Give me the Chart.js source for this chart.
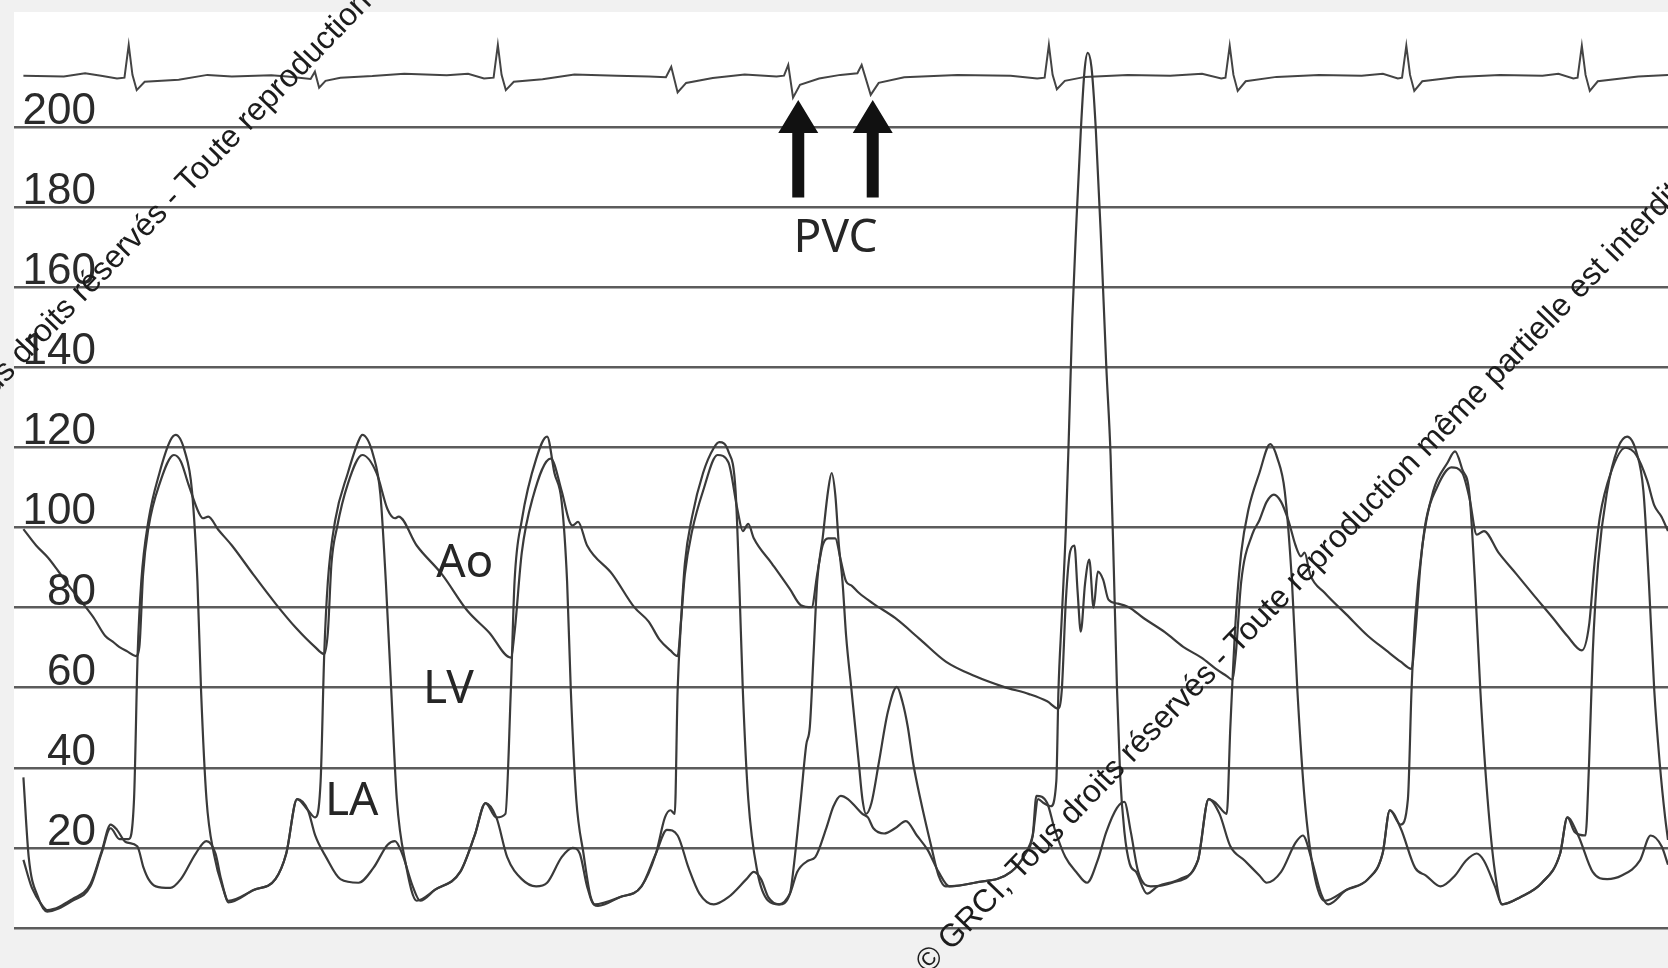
<!DOCTYPE html>
<html><head><meta charset="utf-8">
<script src="https://cdn.jsdelivr.net/npm/chart.js@4.4.1/dist/chart.umd.min.js"></script>
<style>html,body{margin:0;padding:0;background:#f1f1f1;}#wrap{width:1668px;height:968px;position:relative;}</style>
</head><body><div id="wrap"><canvas id="c"></canvas></div>
<script>
// y axis (mmHg)
const yTicks = [0, 20, 40, 60, 80, 100, 120, 140, 160, 180, 200];
const tickLabels = ['', '20', '40', '60', '80', '100', '120', '140', '160', '180', '200'];

// Aortic pressure (Ao)
const aoT = [22,34,45,54.5,66,78,88,99,106,112,120,127.7,131,134.5,139.6,150,163.5,170,177,187,190.7,195.8,205,218,238,259,279,296,304.8,308.2,311.6,316.8,327,340.6,354,364.4,371.3,374.7,391.7,415.5,439.4,459.8,480.2,483.7,490.5,500.7,517.7,528,534.9,538.3,543.4,551.9,575.7,596.2,609.8,620,630.2,637,640.4,643.8,650.6,660.9,674.5,684.7,693.2,698.3,703.4,708.6,725.6,742.6,752.8,763,768.2,773.3,778.4,785.2,790.3,795.4,800.5,807.3,820.9,841.4,865.2,889.1,916.3,943.6,967.4,984.4,994.7,998.1,1002,1006,1010,1013,1016,1020,1024,1028,1032,1037,1042,1051,1061.2,1074.9,1095.3,1112.3,1129.4,1143,1153.2,1158.3,1161.7,1166.8,1177.1,1183.9,1190.7,1197.5,1204.3,1211.1,1217.9,1223,1226.4,1231.5,1245.2,1265.6,1286,1303.1,1316.7,1326.9,1330.3,1335.4,1340.5,1350.8,1364.4,1374.6,1381.4,1388.2,1395,1408.7,1425.7,1442.7,1459.8,1473.4,1487,1493.8,1498.9,1504,1514.2,1527.9,1538.1,1548.3,1555.1,1561.9,1568];
const aoP = [99.6,95.5,92.5,89.2,85,81,77.5,72.9,71.5,70.2,69,67.9,70.2,88.3,100,110.9,118.1,116.5,110.9,103.6,102.3,102.7,99.5,95.5,88.3,81,74.7,70.2,68.4,73.8,91,100,110.9,118.1,113.6,104.5,102.3,102.7,95.5,88.3,79.2,73.8,67.5,73.8,93.7,107.3,117.2,109.1,101.8,100.5,101.4,95.5,88.3,80.1,76.5,72,69.3,67.9,77.4,88.3,99.1,109.1,118.1,116.3,104.5,99.1,100.9,97.3,91,84.6,80.6,80.1,88.3,95.5,97.3,97.3,91.9,86.5,85.5,83.7,81,77.4,72,66.5,62.9,60.2,58.4,56.6,54.8,59.3,82,94,95.5,84,74,86,92,80,89,87,82,81,80.1,77.4,73.8,70.2,67.5,64.7,62.9,62,68.4,86.5,98.2,101.8,106.4,108.2,106.4,101.8,95.5,92.8,93.7,88.3,83.7,78.3,72.9,69.3,66.5,64.7,72.9,91,101.8,110,115,113.6,107.3,98.2,99.1,93.7,88.3,82.8,77.4,72.9,69.3,75.6,91,102.7,113.6,119.9,118.1,111.8,105.5,102.7,99.1];

// Left ventricular pressure (LV)
const lvT = [22,27,35.8,44.3,68,85,95.4,103.9,112.4,120.9,126,129.4,132.8,139.6,149.9,160.1,165.2,173.7,180.5,185.6,189,194.1,201,211.2,214.6,238.4,258.9,269.1,279.3,289.5,296.3,301.4,304.8,308.2,315.1,327,337.2,340.6,350.8,357.6,362.7,367.8,373,381.5,391.7,408.7,432.6,446.2,456.4,466.6,475.1,480.2,483.7,490.5,504.1,514.3,521.2,528,533.1,536.6,541.7,548.5,555.3,562.1,582.5,603,616.6,625.1,630.2,634.3,637,640.4,643.8,650.6,660.9,671.1,676.2,684.7,691.5,694.9,698.3,703.4,712,722.2,732.4,742.6,746,752.8,757.9,761.3,764.8,768.2,773.3,778.4,781.8,785.2,788.6,792,795.4,800.5,807.3,810.7,814.1,819.2,826.1,834.6,843.1,848.2,853.3,858.4,865.2,875.4,882.3,889.1,916.3,950.4,964,970.8,975.9,981,987.8,993,995,998.1,1002,1005,1008,1012,1016,1019.5,1022.5,1026,1030,1035,1040,1044,1047,1050,1053,1057,1062,1068,1078.3,1088.5,1108.9,1126,1136.2,1143,1153.2,1156.6,1161.7,1166.8,1173.6,1183.9,1194.1,1200.9,1207.7,1214.5,1219.6,1226.4,1235,1245.2,1265.6,1286,1299.7,1306.5,1316.7,1323.5,1326.9,1330.3,1337.1,1347.3,1361,1367.8,1374.6,1381.4,1386.5,1391.6,1398.4,1405.3,1412.1,1429.1,1449.5,1466.6,1473.4,1480.2,1490.4,1493.8,1497.2,1502.3,1510.8,1521,1529.6,1538.1,1544.9,1550,1555.1,1560.2,1565.3,1568];
const lvP = [37.6,17.7,7.7,4.1,6.8,10.4,18.6,24.9,22.2,22.2,32.2,68.4,86.5,101.8,113.6,121.7,123.1,119,109.1,86.5,59.3,32.2,18.6,8.6,6.4,9.5,12.2,18.6,32.2,29.4,27.6,36.7,68.4,86.5,101.8,113.6,121.7,123.1,118.1,108.2,86.5,59.3,32.2,15.9,6.8,9.5,14,23.1,31.2,27.6,28.5,59.3,86.5,101.8,117.2,122.7,113.6,106.4,86.5,59.3,32.2,18.6,7.7,5.5,7.7,10.4,18.6,27.6,29.4,28.5,59.3,77.4,91,102.7,113.6,119.9,121.3,119,109.1,86.5,59.3,32.2,14,6.8,5.9,8.6,15,32.2,45.7,50.3,68.4,86.5,97.3,109.1,113.6,108.2,95.5,86.5,72.9,59.3,41.2,32.2,28.5,31.2,41.2,53.9,60.2,56.6,50.3,41.2,32.2,20.4,13.1,10.4,11.3,14,18.6,23.1,32.2,31.2,30.4,36.7,59.3,77.4,100,125,152,177,199,214,218.5,215,200,172,140,118,90,60,38,24,16,14,8.6,10.4,12.2,16.8,32.2,31.2,28.5,50.3,77.4,93.7,104.5,113.6,120.8,117.2,109.1,86.5,59.3,32.2,14,6.8,9.5,12.2,18.6,29.4,25.8,32.2,59.3,77.4,95.5,109.1,116.3,119,114.5,108.2,86.5,59.3,32.2,14,5.9,7.7,11.3,18.6,27.6,24,23.1,41.2,68.4,91,109.1,119.9,122.7,119,109.1,86.5,59.3,41.2,27.6,22];

// Left atrial pressure (LA)
const laT = [22,30,40,44.3,68,85,95.4,104,110,118,129,135,139.6,146.5,160,170,184,194,202.6,207.8,214.6,238.4,258.9,269.1,279.3,289.5,296.3,306.5,320,337,351,364.4,371.3,378,388,395,408.7,432.6,446.2,456.4,466.6,476.8,490.5,504,514.3,528,538.3,545,551.9,558.7,582.5,603,616.6,627,637,647.3,657.5,671,684.7,701.7,708.6,715.4,722.2,732.4,742.6,749.4,759.6,766.4,776.7,783.5,790.3,797.1,803.9,810.7,815.9,821,831.2,841.4,851.6,861.9,872,882.3,892.5,916.3,950.4,964,970.8,974.3,984.4,991.2,1001.5,1011.7,1021.9,1032,1040,1050,1057,1063,1070,1081.7,1102,1126,1136.2,1146.4,1156.6,1170.2,1183.9,1190.7,1204.3,1217.9,1224.7,1233.3,1241.8,1248.6,1265.6,1286,1299.7,1306.5,1316.7,1330.3,1340.5,1354.2,1367.8,1378,1388.2,1395,1405.3,1412.1,1429.1,1449.5,1466.6,1473.4,1483.6,1497.2,1510.8,1524.5,1541.5,1551.7,1562,1568];
const laP = [17,10,5.5,4.5,7.2,11,19,25.8,24.5,21.5,20.4,15,12.2,10.4,10,12.2,18.6,21.7,18.6,12.2,6.8,9.5,12.2,18.6,32.2,29.4,23.1,17.7,12.2,11.3,15,20.8,21.7,18.6,10.4,6.8,9.5,14,23.1,31.2,27.6,17.7,12.2,10.4,11.3,17.7,20,18.6,10.4,5.9,7.7,10.4,18.6,24.5,23.1,15,8.6,5.9,7.7,12.2,14,12.2,7.7,5.9,8.6,14,16.8,17.7,24.9,30.4,33,32.2,30.4,28.5,27.6,24.9,23.6,24.9,26.7,23.1,19.5,14,10.4,11.3,14,18.6,23.1,33,31.2,24.9,17.7,14,11.3,17,24,30,31.5,24,14,10.4,11.3,16.8,32.2,28.5,20.4,16.8,13.1,11.3,14,21.3,23.1,16.8,8.6,5.9,9.5,12.2,18.6,29.4,24.9,15,13.1,10.4,13.1,16.8,18.6,16.8,10.4,5.9,7.7,11.3,18.6,27.6,23.1,14,12.2,13.1,16.8,23.1,20.4,15.8];

// ECG trace (drawn on the same scale, above the pressure grid)
const ecgT = [22,60,80,95,110,117,121,124.5,128.5,136,168,195,218,255,270,292,296,300,306,320,350,380,420,440,455,464,468,471.5,475.5,483,510,540,580,610,626,631,637,645,670,700,730,737,741,745.5,752,770,790,806,810,818.5,826,850,900,950,975,982,986,989.5,993.5,1001,1020,1060,1100,1130,1148,1152,1156,1159.5,1163.5,1171,1200,1240,1280,1300,1314,1318,1322,1325.5,1329.5,1337,1370,1410,1450,1465,1479,1483,1487,1490.5,1494.5,1502,1540,1568];
const ecgV = [212.8,212.6,213.4,212.8,212.1,212.3,220.5,213,209.2,211.3,211.8,213,212.6,212.9,212.6,212,213.8,209.8,211.5,212.3,212.7,213.3,212.9,213.3,212.1,212.3,220.5,213,209.2,211.3,211.9,213.1,212.8,212.6,212.4,215,208.6,211,212.2,213.1,212.6,212.8,215.5,207.3,210.5,212.1,213,213.4,215.5,208,211,212.4,213,212.8,212.1,212.3,220.5,213,209.4,211.5,212.5,213,212.8,213.3,212.1,212.3,220.3,213,209,211.4,212.5,213,212.8,213.3,212.1,212.3,220.3,213,209,211.4,212.5,213,212.8,213.3,212.1,212.3,220.3,213,209,211.4,212.6,213];

// Annotations (data coordinates)
const labelTexts = ['Ao', 'LV', 'LA', 'PVC'];
const labelX = [410, 397.6, 305.5, 746];
const labelY = [87.6, 56.1, 28.1, 168.7];
const arrowX = [750.4, 820.4];
const arrowTipY = 206.7;
const arrowTailY = 182.4;
const wmText = '\u00A9 GRCI, Tous droits r\u00E9serv\u00E9s - Toute reproduction m\u00EAme partielle est interdite';
const wmX = [-113.3, 872.8];
const wmY = [103.3, -11.7];

const mk = (t, v) => t.map((x, i) => ({ x: x, y: v[i] }));

const bgPlugin = {
  id: 'bg',
  beforeDraw(chart) {
    const { ctx, chartArea: a } = chart;
    ctx.save();
    ctx.fillStyle = '#f1f1f1';
    ctx.fillRect(0, 0, chart.width, chart.height);
    ctx.fillStyle = '#ffffff';
    ctx.fillRect(a.left, a.top, a.right - a.left, a.bottom - a.top);
    ctx.restore();
  }
};

const annoPlugin = {
  id: 'anno',
  afterDatasetsDraw(chart) {
    const { ctx, chartArea: a } = chart;
    const xs = chart.scales.x, ys = chart.scales.y;
    ctx.save();
    // tick labels, sitting just above each grid line
    ctx.font = "44px 'Liberation Sans', Arial, sans-serif";
    ctx.fillStyle = '#2a2a2a';
    ctx.textAlign = 'right';
    ctx.textBaseline = 'alphabetic';
    yTicks.forEach((v, i) => {
      if (tickLabels[i]) ctx.fillText(tickLabels[i], a.left + 82, ys.getPixelForValue(v) - 3);
    });
    // trace labels
    ctx.font = "46px 'Noto Sans', sans-serif";
    ctx.textAlign = 'left';
    ctx.fillStyle = '#262626';
    labelTexts.forEach((t, i) => {
      ctx.fillText(t, xs.getPixelForValue(labelX[i]), ys.getPixelForValue(labelY[i]));
    });
    // arrows
    ctx.fillStyle = '#111111';
    arrowX.forEach(ax => {
      const px = xs.getPixelForValue(ax);
      const tip = ys.getPixelForValue(arrowTipY);
      const tail = ys.getPixelForValue(arrowTailY);
      ctx.beginPath();
      ctx.moveTo(px, tip);
      ctx.lineTo(px + 20, tip + 33);
      ctx.lineTo(px + 6, tip + 33);
      ctx.lineTo(px + 6, tail);
      ctx.lineTo(px - 6, tail);
      ctx.lineTo(px - 6, tip + 33);
      ctx.lineTo(px - 20, tip + 33);
      ctx.closePath();
      ctx.fill();
    });
    // diagonal copyright notices
    ctx.font = "32px 'Liberation Sans', Arial, sans-serif";
    ctx.fillStyle = '#1c1c1c';
    wmX.forEach((wx, i) => {
      ctx.save();
      ctx.translate(xs.getPixelForValue(wx), ys.getPixelForValue(wmY[i]));
      ctx.rotate(-46 * Math.PI / 180);
      ctx.fillText(wmText, 0, 0);
      ctx.restore();
    });
    ctx.restore();
  }
};

const traceStyle = { borderColor: '#3a3a3a', borderWidth: 2.2, pointRadius: 0, fill: false, cubicInterpolationMode: 'monotone' };

new Chart(document.getElementById('c'), {
  type: 'line',
  data: {
    datasets: [
      Object.assign({ label: 'Ao', data: mk(aoT, aoP) }, traceStyle),
      Object.assign({ label: 'LV', data: mk(lvT, lvP) }, traceStyle),
      Object.assign({ label: 'LA', data: mk(laT, laP) }, traceStyle),
      { label: 'ECG', data: mk(ecgT, ecgV), borderColor: '#444444', borderWidth: 2, pointRadius: 0, fill: false, tension: 0 }
    ]
  },
  options: {
    responsive: true,
    maintainAspectRatio: false,
    animation: false,
    events: [],
    layout: { padding: { left: 14, top: 12, right: 0, bottom: 40 } },
    plugins: { legend: { display: false }, tooltip: { enabled: false } },
    scales: {
      x: { type: 'linear', min: 13.16, max: 1568, display: false },
      y: {
        min: 0, max: 228.7,
        afterBuildTicks: s => { s.ticks = yTicks.map(v => ({ value: v })); },
        ticks: { display: false },
        grid: { color: '#5c5c5c', lineWidth: 2.4, drawTicks: false },
        border: { display: false }
      }
    }
  },
  plugins: [bgPlugin, annoPlugin]
});
</script>
</body></html>
